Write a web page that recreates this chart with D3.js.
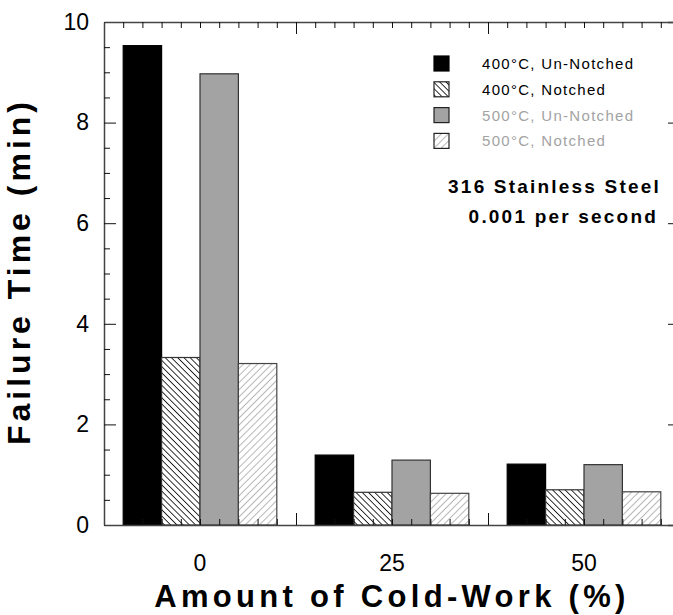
<!DOCTYPE html>
<html>
<head>
<meta charset="utf-8">
<script src="https://cdn.jsdelivr.net/npm/d3@7"></script>
<style>
    body { margin: 0; background: #fff; }
    svg { display: block; font-family: "Liberation Sans", Arial, sans-serif; }
</style>
</head>
<body>
<svg id="chart" width="673" height="615"></svg>
<script>
(function () {
    'use strict';

    // data
    const categories = ['0', '25', '50'];
    const seriesNames = ['400°C, Un-Notched', '400°C, Notched', '500°C, Un-Notched', '500°C, Notched'];
    const unNotched400 = [9.53, 1.39, 1.21];
    const notched400 = [3.33, 0.65, 0.70];
    const unNotched500 = [8.97, 1.29, 1.20];
    const notched500 = [3.21, 0.63, 0.66];
    const yTicks = [0, 2, 4, 6, 8, 10];
    const yMinor = [0.5, 1, 1.5, 2.5, 3, 3.5, 4.5, 5, 5.5, 6.5, 7, 7.5, 8.5, 9, 9.5];

    const values = [unNotched400, notched400, unNotched500, notched500];
    const fills = ['#000', 'url(#hatchDark)', '#a3a3a3', 'url(#hatchLight)'];
    const strokes = ['#000', '#333', '#333', '#444'];
    const legendColors = ['#000', '#000', '#a3a3a3', '#a3a3a3'];

    const margin = { 'top': 22, 'bottom': 90, 'left': 104, 'right': -7 };
    const width = 673 - margin.left - margin.right;
    const height = 615 - margin.top - margin.bottom;

    const svg = d3.select('#chart');

    const defs = svg.append('defs');
    let p = defs.append('pattern')
        .attr('id', 'hatchDark')
        .attr('patternUnits', 'userSpaceOnUse')
        .attr('width', 4.4).attr('height', 4.4)
        .attr('patternTransform', 'rotate(45)');
    p.append('rect').attr('width', 4.4).attr('height', 4.4).attr('fill', '#fff');
    p.append('line').attr('x1', 0).attr('y1', 0).attr('x2', 4.4).attr('y2', 0)
        .attr('stroke', '#000').attr('stroke-width', 1.6);

    p = defs.append('pattern')
        .attr('id', 'hatchLight')
        .attr('patternUnits', 'userSpaceOnUse')
        .attr('width', 5).attr('height', 5)
        .attr('patternTransform', 'rotate(-45)');
    p.append('rect').attr('width', 5).attr('height', 5).attr('fill', '#fff');
    p.append('line').attr('x1', 0).attr('y1', 0).attr('x2', 5).attr('y2', 0)
        .attr('stroke', '#999').attr('stroke-width', 1.4);

    const chart = svg.append('g')
        .attr('transform', `translate(${margin.left}, ${margin.top})`);

    const y = d3.scaleLinear().domain([0, 10]).range([height, 0]);
    const x0 = d3.scaleBand().domain(categories).range([0, width]);
    const x1 = d3.scaleBand().domain(d3.range(seriesNames.length))
        .range([0, x0.bandwidth()])
        .paddingOuter(0.5);
    // tick scale in group units
    const xt = d3.scaleLinear().domain([0, categories.length]).range([0, width]);
    const xMajor = [1, 2];
    const xMinor = d3.range(1, 30).map((i) => i / 10).filter((d) => Math.abs(d - 1) > 1e-6 && Math.abs(d - 2) > 1e-6);

    // bars
    seriesNames.forEach((name, s) => {
        chart.selectAll('.bar' + s)
            .data(values[s])
            .enter().append('rect')
                .attr('x', (d, i) => x0(categories[i]) + x1(s))
                .attr('y', (d) => y(d))
                .attr('width', x1.bandwidth())
                .attr('height', (d) => height - y(d))
                .attr('fill', fills[s])
                .attr('stroke', strokes[s])
                .attr('stroke-width', 1.2);
    });

    // axes / frame
    const axisColor = '#444';
    function styleAxis(g) {
        g.selectAll('.domain').attr('stroke', axisColor).attr('stroke-width', 1.5);
        g.selectAll('.tick line').attr('stroke', '#111');
        g.selectAll('text').attr('font-family', '"Liberation Sans", Arial, sans-serif')
            .attr('font-size', 23).attr('fill', '#000');
    }

    chart.append('g')
        .call(d3.axisLeft(y).tickValues(yTicks).tickSizeInner(-12).tickSizeOuter(0).tickPadding(15))
        .call(styleAxis);
    chart.append('g')
        .call(d3.axisLeft(y).tickValues(yMinor).tickSize(-6).tickFormat(''))
        .call((g) => g.select('.domain').remove())
        .call(styleAxis);
    chart.append('g')
        .attr('transform', `translate(${width}, 0)`)
        .call(d3.axisRight(y).tickValues(yTicks).tickSize(-12).tickFormat(''))
        .call(styleAxis);
    chart.append('g')
        .attr('transform', `translate(${width}, 0)`)
        .call(d3.axisRight(y).tickValues(yMinor).tickSize(-6).tickFormat(''))
        .call((g) => g.select('.domain').remove())
        .call(styleAxis);

    // top
    chart.append('g')
        .call(d3.axisBottom(xt).tickValues(xMajor).tickSize(12).tickSizeOuter(0).tickFormat(''))
        .call(styleAxis);
    chart.append('g')
        .call(d3.axisBottom(xt).tickValues(xMinor).tickSize(6).tickFormat(''))
        .call((g) => g.select('.domain').remove())
        .call(styleAxis);
    // bottom
    chart.append('g')
        .attr('transform', `translate(0, ${height})`)
        .call(d3.axisTop(xt).tickValues(xMajor).tickSize(12).tickSizeOuter(0).tickFormat(''))
        .call(styleAxis);
    chart.append('g')
        .attr('transform', `translate(0, ${height})`)
        .call(d3.axisTop(xt).tickValues(xMinor).tickSize(6).tickFormat(''))
        .call((g) => g.select('.domain').remove())
        .call(styleAxis);
    chart.append('g')
        .attr('transform', `translate(0, ${height})`)
        .call(d3.axisBottom(x0).tickSize(0).tickPadding(30))
        .call((g) => g.select('.domain').remove())
        .call(styleAxis);

    // axis titles
    chart.append('text')
        .attr('transform', `translate(${-74}, ${height / 2 - 2}) rotate(-90)`)
        .attr('text-anchor', 'middle')
        .attr('font-size', 32)
        .attr('font-weight', 'bold')
        .attr('letter-spacing', 4)
        .text('Failure Time (min)');
    chart.append('text')
        .attr('x', width / 2)
        .attr('y', height + 82)
        .attr('text-anchor', 'middle')
        .attr('font-size', 31)
        .attr('font-weight', 'bold')
        .attr('letter-spacing', 4.3)
        .text('Amount of Cold-Work (%)');

    // legend
    const legend = chart.selectAll('.legend')
        .data(seriesNames)
        .enter().append('g')
            .attr('class', 'legend')
            .attr('transform', (d, i) => `translate(330, ${34 + i * 25.8})`);
    legend.append('rect')
        .attr('width', 15).attr('height', 15)
        .attr('fill', (d, i) => fills[i])
        .attr('stroke', (d, i) => i === 0 ? '#000' : '#222')
        .attr('stroke-width', 1.2);
    legend.append('text')
        .attr('x', 48)
        .attr('y', 13)
        .attr('font-size', 15)
        .attr('letter-spacing', 1.3)
        .attr('fill', (d, i) => legendColors[i])
        .text((d) => d);

    // annotation
    const note = chart.append('text')
        .attr('text-anchor', 'end')
        .attr('font-size', 19)
        .attr('font-weight', 'bold')
        .attr('letter-spacing', 2.2);
    note.append('tspan').attr('x', 557).attr('y', 171).text('316 Stainless Steel');
    note.append('tspan').attr('x', 554).attr('y', 201).text('0.001 per second');
})();
</script>
</body>
</html>
